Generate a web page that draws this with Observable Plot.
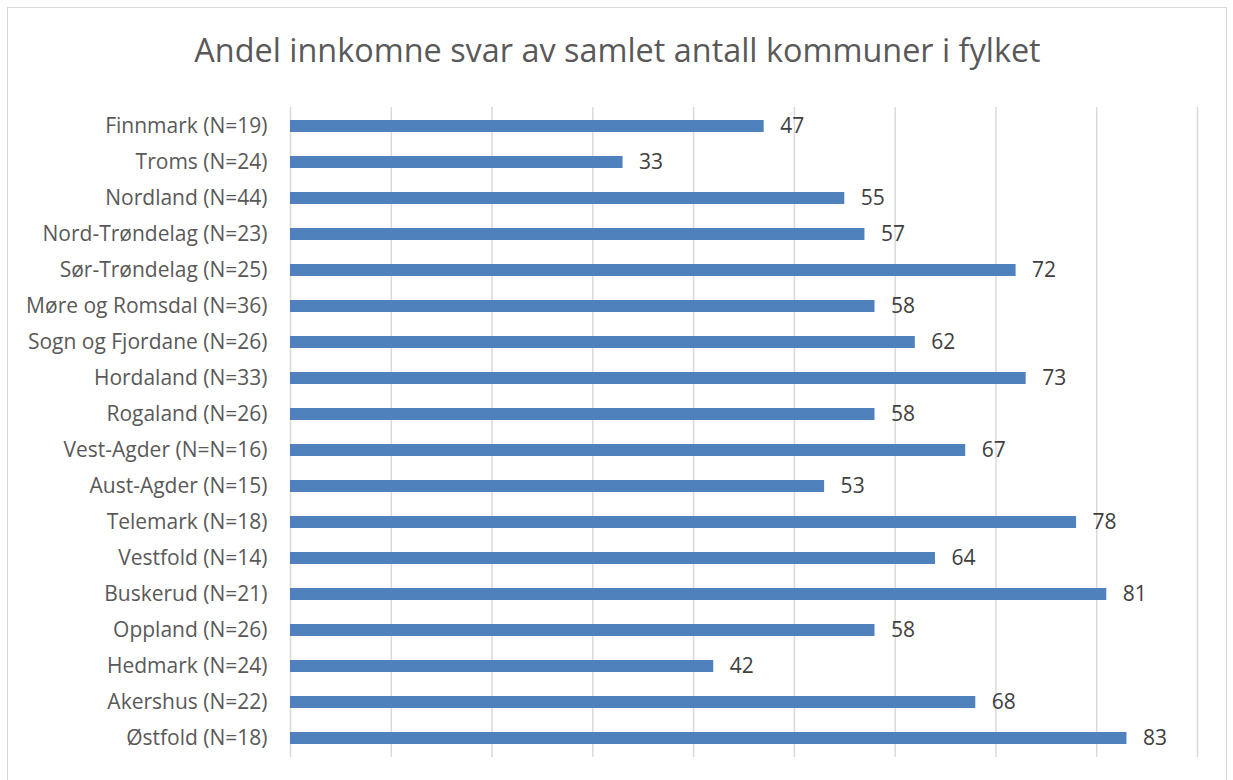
<!DOCTYPE html>
<html><head><meta charset="utf-8">
<script src="https://cdn.jsdelivr.net/npm/d3@7"></script>
<script src="https://cdn.jsdelivr.net/npm/@observablehq/plot@0.6"></script>
<style>
html,body{margin:0;padding:0;background:#fff;overflow:hidden;}
#wrap{position:relative;width:1233px;height:780px;}
#frame{position:absolute;left:7px;top:7px;width:1218px;height:800px;border:1px solid #d9d9d9;}
#title{position:absolute;left:0;top:27px;width:1235px;text-align:center;font-family:"Open Sans";font-size:32.4px;color:#595959;white-space:nowrap;}
#chart{position:absolute;left:0;top:0;}
</style></head><body>
<div id="wrap"><div id="frame"></div><div id="title">Andel innkomne svar av samlet antall kommuner i fylket</div><div id="chart"></div></div>
<script>
const categories = [
  "Finnmark (N=19)", "Troms (N=24)", "Nordland (N=44)", "Nord-Trøndelag (N=23)",
  "Sør-Trøndelag (N=25)", "Møre og Romsdal (N=36)", "Sogn og Fjordane (N=26)",
  "Hordaland (N=33)", "Rogaland (N=26)", "Vest-Agder (N=N=16)", "Aust-Agder (N=15)",
  "Telemark (N=18)", "Vestfold (N=14)", "Buskerud (N=21)", "Oppland (N=26)",
  "Hedmark (N=24)", "Akershus (N=22)", "Østfold (N=18)"
];
const values = [47, 33, 55, 57, 72, 58, 62, 73, 58, 67, 53, 78, 64, 81, 58, 42, 68, 83];
const xTicks = [0, 10, 20, 30, 40, 50, 60, 70, 80, 90];

const data = categories.map((c, i) => ({c, v: values[i]}));

const plot = Plot.plot({
  width: 1233, height: 780,
  marginLeft: 290, marginRight: 36, marginTop: 107, marginBottom: 23,
  style: {fontFamily: "Open Sans", fontSize: "21px", background: "transparent", color: "#595959"},
  x: {domain: [0, 90], axis: null},
  y: {domain: categories, paddingInner: 0.67, paddingOuter: 0.335, axis: null},
  marks: [
    Plot.ruleX(xTicks, {stroke: "#d9d9d9", strokeWidth: 1.5}),
    Plot.barX(data, {x: "v", y: "c", fill: "#4f81bd"}),
    Plot.text(data, {x: "v", y: "c", text: d => String(d.v), textAnchor: "start", dx: 16, fill: "#404040", fontSize: 21}),
    Plot.axisY({tickSize: 0, tickPadding: 23, fontSize: 21, fill: "#595959", label: null})
  ]
});
document.getElementById("chart").appendChild(plot);
</script>
</body></html>
